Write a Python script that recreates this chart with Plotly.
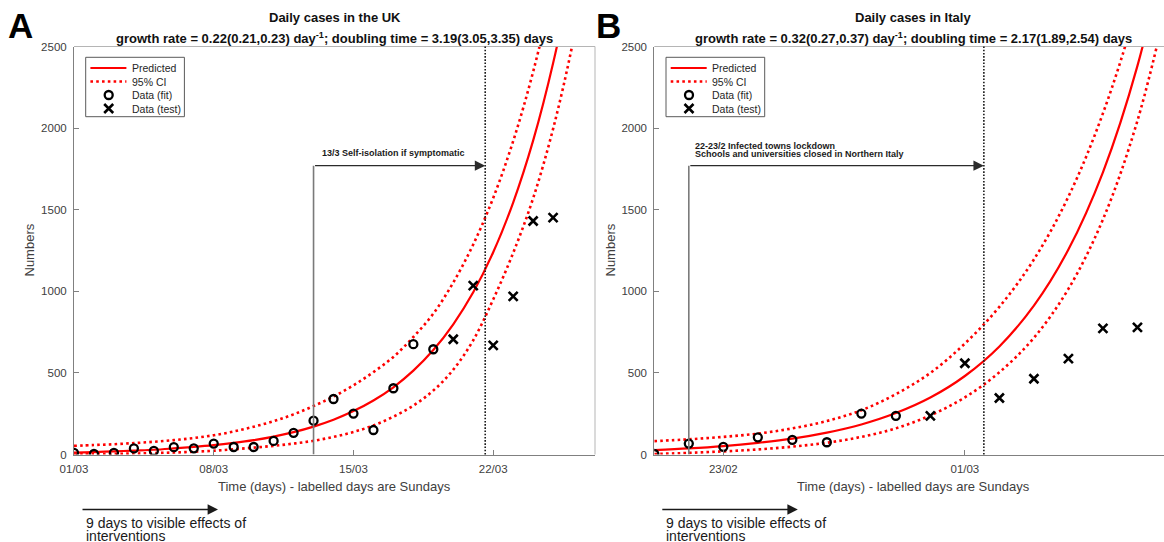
import plotly.graph_objects as go

W, H = 1164, 542

# ---------------- Panel A : UK ----------------
uk_fit_days = list(range(1, 20))
uk_fit_cases = [10, 3, 10, 37, 22, 45, 38, 67, 46, 46, 83, 133, 207, 340, 251, 150, 406, 676, 645]
uk_test_days = list(range(20, 26))
uk_test_cases = [706, 1035, 669, 969, 1431, 1451]
uk_curve_days = list(range(1, 28))
uk_pred = [12, 15, 19, 24, 29, 37, 46, 57, 71, 88, 110, 137, 171, 213, 266, 331, 412,
           514, 640, 798, 994, 1239, 1544, 1923, 2397, 2987, 3720]
uk_upper = [53, 58, 63, 70, 78, 88, 101, 118, 141, 170, 204, 246, 297, 355, 424, 505, 598,
            720, 863, 1054, 1287, 1572, 1920, 2345, 2864, 3500, 4270]
uk_lower = [0, 2, 4, 6, 9, 12, 17, 23, 32, 42, 53, 67, 84, 108, 138, 178, 232,
            300, 392, 520, 700, 950, 1235, 1570, 1995, 2530, 3200]
uk_tick_days = [1, 8, 15, 22]
uk_tick_labels = ["01/03", "08/03", "15/03", "22/03"]
uk_intervention_day = 13
uk_effect_day = 21.6
uk_title = ["Daily cases in the UK",
            "growth rate = 0.22(0.21,0.23) day<sup>-1</sup>; doubling time = 3.19(3.05,3.35) days"]
uk_note = ["13/3 Self-isolation if symptomatic"]

# ---------------- Panel B : Italy ----------------
it_fit_days = list(range(0, 8))
it_fit_cases = [3, 67, 47, 105, 90, 75, 251, 237]
it_test_days = list(range(8, 15))
it_test_cases = [237, 559, 346, 464, 587, 773, 779]
it_curve_days = list(range(0, 16))
it_pred = [27, 37, 51, 71, 97, 134, 184, 254, 349, 481, 662, 912, 1256, 1729, 2381, 3280]
it_upper = [82, 93, 108, 128, 160, 205, 271, 370, 500, 680, 905, 1195, 1580, 2090, 2760, 3640]
it_lower = [3, 10, 19, 31, 48, 72, 108, 160, 240, 350, 504, 715, 1015, 1440, 2045, 2900]
it_tick_days = [2, 9]
it_tick_labels = ["23/02", "01/03"]
it_intervention_day = 1
it_effect_day = 9.55
it_title = ["Daily cases in Italy",
            "growth rate = 0.32(0.27,0.37) day<sup>-1</sup>; doubling time = 2.17(1.89,2.54) days"]
it_note = ["22-23/2 Infected towns lockdown",
           "Schools and universities closed in Northern Italy"]

y_ticks = [0, 500, 1000, 1500, 2000, 2500]
y_max = 2500
arrow_level = 1770
legend_labels = ["Predicted", "95% CI", "Data (fit)", "Data (test)"]

# ---------------- layout geometry (pixels) ----------------
FONT = "Liberation Sans, Arial, sans-serif"
RED = "#ff0000"
AX_COL = "#808080"
TXT = "#404040"
plot_top, plot_bot = 46.5, 454.5
panels = [
    dict(xa="x", ya="y", left=74.0, right=595.0, xrange=[1, 27.1],
         fit_x=uk_fit_days, fit_y=uk_fit_cases, test_x=uk_test_days, test_y=uk_test_cases,
         cx=uk_curve_days, pred=uk_pred, up=uk_upper, lo=uk_lower,
         tv=uk_tick_days, tt=uk_tick_labels, iday=uk_intervention_day, eday=uk_effect_day,
         title=uk_title, note=uk_note, note_x=13.33, letter="A", letter_x=21,
         title_x=334.5, xtitle_x=334.5, ytitle_x=29),
    dict(xa="x2", ya="y2", left=654.3, right=1164.0, xrange=[0, 14.77],
         fit_x=it_fit_days, fit_y=it_fit_cases, test_x=it_test_days, test_y=it_test_cases,
         cx=it_curve_days, pred=it_pred, up=it_upper, lo=it_lower,
         tv=it_tick_days, tt=it_tick_labels, iday=it_intervention_day, eday=it_effect_day,
         title=it_title, note=it_note, note_x=1.11, letter="B", letter_x=608,
         title_x=913, xtitle_x=913, ytitle_x=610),
]

def px(x):
    return x / W

def py(y):
    return 1 - y / H

fig = go.Figure()
shapes = []
annotations = []

for i, p in enumerate(panels):
    xa, ya = p["xa"], p["ya"]
    for arr in (p["up"], p["lo"]):
        fig.add_trace(go.Scatter(x=p["cx"], y=arr, mode="lines", xaxis=xa, yaxis=ya,
                                 line=dict(color=RED, width=2.6, dash="2.6px,3.2px", shape="spline"),
                                 showlegend=False, hoverinfo="skip", name="95% CI"))
    fig.add_trace(go.Scatter(x=p["cx"], y=p["pred"], mode="lines", xaxis=xa, yaxis=ya,
                             line=dict(color=RED, width=2.2, shape="spline"),
                             showlegend=False, name="Predicted"))
    fig.add_trace(go.Scatter(x=p["fit_x"], y=p["fit_y"], mode="markers", xaxis=xa, yaxis=ya,
                             marker=dict(symbol="circle-open", size=8, color="black",
                                         line=dict(width=2.3, color="black")),
                             showlegend=False, name="Data (fit)"))
    fig.add_trace(go.Scatter(x=p["test_x"], y=p["test_y"], mode="markers", xaxis=xa, yaxis=ya,
                             marker=dict(symbol="x-thin-open", size=9, color="black",
                                         line=dict(width=2.6, color="black")),
                             showlegend=False, name="Data (test)"))

    xd = xa + " domain"
    yd = ya + " domain"
    shapes.append(dict(type="line", xref=xd, yref=yd, x0=0, x1=1, y0=1, y1=1,
                       line=dict(color="#b5b5b5", width=1)))
    if p["right"] < W:
        shapes.append(dict(type="line", xref=xd, yref=yd, x0=1, x1=1, y0=0, y1=1,
                           line=dict(color="#b5b5b5", width=1)))
    shapes.append(dict(type="line", xref=xa, yref=ya, x0=p["iday"], x1=p["iday"],
                       y0=0, y1=arrow_level, line=dict(color="#7a7a7a", width=1.6)))
    shapes.append(dict(type="line", xref=xa, yref=yd, x0=p["eday"], x1=p["eday"],
                       y0=0, y1=1, line=dict(color="#1a1a1a", width=1.6, dash="1.6px,1.6px")))
    annotations.append(dict(x=p["eday"], y=arrow_level, ax=p["iday"], ay=arrow_level,
                            xref=xa, yref=ya, axref=xa, ayref=ya, text="", showarrow=True,
                            arrowhead=2, arrowsize=1.6, arrowwidth=1.3, arrowcolor="#2b2b2b",
                            standoff=0, startstandoff=0))
    if len(p["note"]) == 1:
        annotations.append(dict(x=p["note_x"], y=1846, xref=xa, yref=ya, text="<b>%s</b>" % p["note"][0],
                                showarrow=False, xanchor="left", yanchor="middle",
                                font=dict(family=FONT, size=9, color="#1a1a1a")))
    else:
        for txt, yv in zip(p["note"], [1893, 1840]):
            annotations.append(dict(x=p["note_x"], y=yv, xref=xa, yref=ya, text="<b>%s</b>" % txt,
                                    showarrow=False, xanchor="left", yanchor="middle",
                                    font=dict(family=FONT, size=9, color="#1a1a1a")))
    annotations.append(dict(x=px(p["title_x"]), y=py(18), xref="paper", yref="paper",
                            text="<b>%s</b>" % p["title"][0], showarrow=False,
                            xanchor="center", yanchor="middle",
                            font=dict(family=FONT, size=13, color="#111")))
    annotations.append(dict(x=px(p["title_x"]), y=py(38), xref="paper", yref="paper",
                            text="<b>%s</b>" % p["title"][1], showarrow=False,
                            xanchor="center", yanchor="middle",
                            font=dict(family=FONT, size=13, color="#111")))
    annotations.append(dict(x=px(p["letter_x"]), y=py(25), xref="paper", yref="paper",
                            text="<b>%s</b>" % p["letter"], showarrow=False,
                            xanchor="center", yanchor="middle",
                            font=dict(family=FONT, size=35, color="black")))
    annotations.append(dict(x=px(p["xtitle_x"]), y=py(486), xref="paper", yref="paper",
                            text="Time (days) - labelled days are Sundays", showarrow=False,
                            xanchor="center", yanchor="middle",
                            font=dict(family=FONT, size=13, color=TXT)))
    annotations.append(dict(x=px(p["ytitle_x"]), y=py(250.5), xref="paper", yref="paper",
                            text="Numbers", showarrow=False, textangle=-90,
                            xanchor="center", yanchor="middle",
                            font=dict(family=FONT, size=13, color=TXT)))
    a_left = p["left"] + (7 if i == 0 else 6.5)
    annotations.append(dict(x=px(a_left + 137), y=py(509.5), xref="paper", yref="paper",
                            ax=-137, ay=0, axref="pixel", ayref="pixel", text="", showarrow=True,
                            arrowhead=2, arrowsize=1.6, arrowwidth=1.3, arrowcolor="#1a1a1a",
                            standoff=0))
    for txt, yy in (("9 days to visible effects of", 523), ("interventions", 536)):
        annotations.append(dict(x=px(a_left + 3), y=py(yy), xref="paper", yref="paper",
                                text=txt, showarrow=False, xanchor="left", yanchor="middle",
                                font=dict(family=FONT, size=14, color="#1a1a1a")))

    # custom legend
    L = p["left"] + 11.7
    T = 57.3
    shapes.append(dict(type="rect", xref="paper", yref="paper", x0=px(L), x1=px(L + 98.7),
                       y0=py(T), y1=py(T + 59.4), fillcolor="white",
                       line=dict(color="#5a5a5a", width=1), layer="below"))
    rows = [68, 81.5, 95, 108.5]
    shapes.append(dict(type="line", xref="paper", yref="paper", x0=px(L + 4.7), x1=px(L + 40.7),
                       y0=py(rows[0]), y1=py(rows[0]), line=dict(color=RED, width=2.2)))
    shapes.append(dict(type="line", xref="paper", yref="paper", x0=px(L + 4.7), x1=px(L + 40.7),
                       y0=py(rows[1]), y1=py(rows[1]),
                       line=dict(color=RED, width=2.6, dash="2.6px,3.2px")))
    fig.add_trace(go.Scatter(x=[L + 23], y=[rows[2]], mode="markers", xaxis="x3", yaxis="y3",
                             marker=dict(symbol="circle-open", size=8, color="black",
                                         line=dict(width=2.3, color="black")),
                             showlegend=False, hoverinfo="skip"))
    fig.add_trace(go.Scatter(x=[L + 23], y=[rows[3]], mode="markers", xaxis="x3", yaxis="y3",
                             marker=dict(symbol="x-thin-open", size=9, color="black",
                                         line=dict(width=2.6, color="black")),
                             showlegend=False, hoverinfo="skip"))
    for lab, r in zip(legend_labels, rows):
        annotations.append(dict(x=px(L + 44), y=py(r), xref="paper", yref="paper", text=lab,
                                showarrow=False, xanchor="left", yanchor="middle",
                                font=dict(family=FONT, size=10.5, color="#262626")))

def xaxis_cfg(p, anchor):
    return dict(domain=[px(p["left"]), px(p["right"])], range=p["xrange"],
                tickvals=p["tv"], ticktext=p["tt"], ticks="inside", ticklen=5,
                tickcolor=AX_COL, showline=True, linecolor=AX_COL, linewidth=1,
                showgrid=False, zeroline=False, ticklabelstandoff=4,
                tickfont=dict(family=FONT, size=11.5, color=TXT), automargin=False,
                fixedrange=True, anchor=anchor)

def yaxis_cfg(anchor):
    return dict(domain=[py(plot_bot), py(plot_top)], range=[0, y_max], tickvals=y_ticks,
                ticks="inside", ticklen=5, tickcolor=AX_COL, showline=True, linecolor=AX_COL,
                linewidth=1, showgrid=False, zeroline=False, ticklabelstandoff=4,
                tickfont=dict(family=FONT, size=11.5, color=TXT), automargin=False,
                anchor=anchor, fixedrange=True)

fig.update_layout(
    width=W, height=H, margin=dict(l=0, r=0, t=0, b=0),
    paper_bgcolor="white", plot_bgcolor="rgba(0,0,0,0)",
    xaxis=xaxis_cfg(panels[0], "y"), yaxis=yaxis_cfg("x"),
    xaxis2=xaxis_cfg(panels[1], "y2"), yaxis2=yaxis_cfg("x2"),
    xaxis3=dict(domain=[0, 1], range=[0, W], visible=False, fixedrange=True, anchor="y3"),
    yaxis3=dict(domain=[0, 1], range=[H, 0], visible=False, fixedrange=True, anchor="x3"),
    shapes=shapes, annotations=annotations, showlegend=False,
    font=dict(family=FONT),
)

fig.write_html("out.html", include_plotlyjs=True, full_html=True,
               config={"displayModeBar": False},
               post_script="document.body.style.margin='0px';document.body.style.overflow='hidden';")
